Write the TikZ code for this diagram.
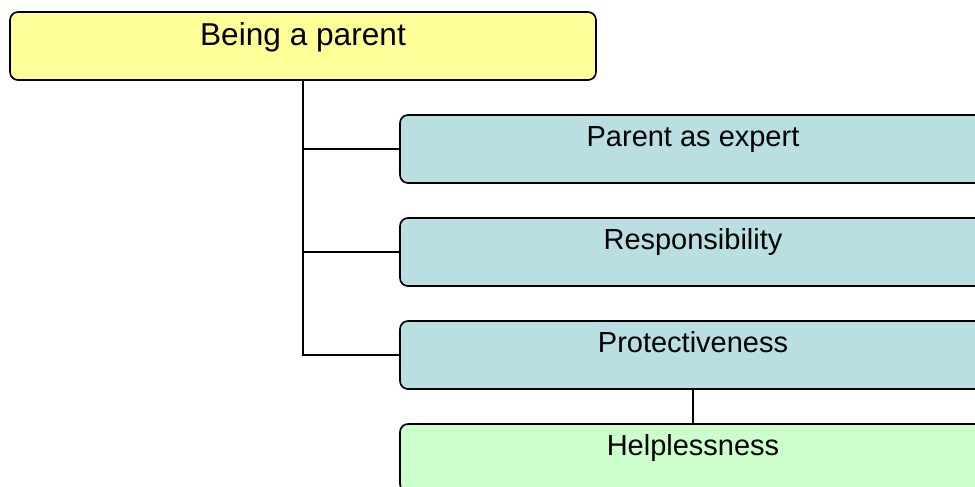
\documentclass[tikz,border=0pt]{standalone}
\usepackage{fontspec}
\setmainfont{Liberation Sans}
\usetikzlibrary{positioning}

\definecolor{rootyellow}{RGB}{255,255,153}
\definecolor{themeteal}{RGB}{185,223,227}
\definecolor{subgreen}{RGB}{204,255,204}

\begin{document}
\begin{tikzpicture}
[
	              x = 0.02cm,
	              y = -0.02cm,
	     line width = 1.3pt,
	    box/.style = { draw=black, line width=0.95pt, rounded corners=4.5pt,
	                   minimum width=11.72cm, minimum height=1.36cm, inner sep=0pt },
	   root/.style = { box, fill=rootyellow },
	  theme/.style = { box, fill=themeteal },
	    sub/.style = { box, fill=subgreen },
	  label/.style = { draw=none, fill=none, anchor=base, inner sep=0pt,
	                   font=\fontsize{16.5}{20}\selectfont },
	toplabel/.style = { label, font=\fontsize{18}{22}\selectfont }
]
	\clip (0,0) rectangle (975,487);
	\useasboundingbox (0,0) rectangle (975,487);

	% boxes
	\node (parent) at (303,46)  [root]  {};
	\node (expert) at (693,149) [theme] {};
	\node (resp)   at (693,252) [theme] {};
	\node (prot)   at (693,355) [theme] {};
	\node (help)   at (693,458) [sub]   {};

	% texts
	\node (t0) at (303,45.7)  [toplabel] {Being a parent};
	\node (t1) at (693,146.7) [label]    {Parent as expert};
	\node (t2) at (693,249.7) [label]    {Responsibility};
	\node (t3) at (693,352.7) [label]    {Protectiveness};
	\node (t4) at (693,455.7) [label]    {Helplessness};

	% connectors
	\draw (parent.south) |- (expert.west);
	\draw (parent.south) |- (resp.west);
	\draw (parent.south) |- (prot.west);
	\draw (prot.south) -- (help.north);

\end{tikzpicture}
\end{document}
